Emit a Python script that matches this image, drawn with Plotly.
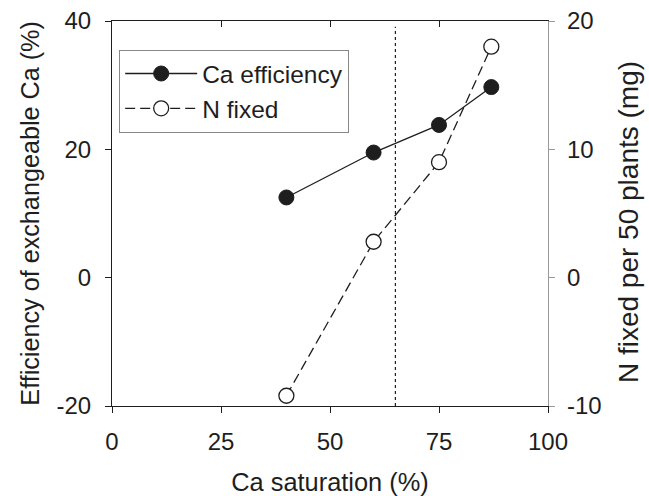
import plotly.graph_objects as go

# Ca saturation levels (%)
ca_saturation = [40, 60, 75, 87]
# Efficiency of exchangeable Ca (%), left axis
ca_efficiency = [12.5, 19.5, 23.8, 29.7]
# N fixed per 50 plants (mg), right axis
n_fixed = [-9.2, 2.8, 9.0, 18.0]
threshold = 65

x_ticks = [0, 25, 50, 75, 100]
x_tick_labels = ["0", "25", "50", "75", "100"]
y1_ticks = [-20, 0, 20, 40]
y1_tick_labels = ["-20", "0", "20", "40"]
y2_ticks = [-10, 0, 10, 20]
y2_tick_labels = ["-10", "0", "10", "20"]

FONT = "Liberation Sans, Arial, sans-serif"
INK = "#1e1e1e"

fig = go.Figure()

fig.add_trace(go.Scatter(
    x=ca_saturation, y=ca_efficiency, name="Ca efficiency",
    mode="lines+markers",
    line=dict(color=INK, width=1.3),
    marker=dict(symbol="circle", size=15, color=INK,
                line=dict(color=INK, width=1)),
    yaxis="y",
))
fig.add_trace(go.Scatter(
    x=ca_saturation, y=n_fixed, name="N fixed",
    mode="lines+markers",
    line=dict(color=INK, width=1.3, dash="10px,5px"),
    marker=dict(symbol="circle", size=15, color="white",
                line=dict(color=INK, width=1.3)),
    yaxis="y2",
))

# vertical dotted reference line
fig.add_shape(type="line", xref="x", yref="paper",
              x0=threshold, x1=threshold, y0=0, y1=0.985,
              line=dict(color=INK, width=1.2, dash="dot"))

# axis titles for the two y axes, placed as rotated annotations
fig.add_annotation(text="Efficiency of exchangeable Ca (%)", textangle=-90,
                   xref="paper", yref="paper", x=-0.19, y=0.5,
                   xanchor="center", yanchor="middle", showarrow=False,
                   font=dict(size=25.2))
fig.add_annotation(text="N fixed per 50 plants (mg)", textangle=-90,
                   xref="paper", yref="paper", x=1.186, y=0.478,
                   xanchor="center", yanchor="middle", showarrow=False,
                   font=dict(size=28))

fig.update_layout(
    width=649, height=496,
    margin=dict(l=112, r=101, t=21, b=90, autoexpand=False),
    paper_bgcolor="white", plot_bgcolor="white",
    font=dict(family=FONT, size=24, color=INK),
    showlegend=True,
    legend=dict(x=0.016, y=0.925, xanchor="left", yanchor="top",
                bordercolor="#888", borderwidth=1.2,
                font=dict(size=24.5), itemwidth=72,
                tracegroupgap=2),
    xaxis=dict(
        range=[0, 100], tickvals=x_ticks, ticktext=x_tick_labels,
        title=dict(text="Ca saturation (%)", standoff=22, font=dict(size=25.4)),
        showline=True, linecolor=INK, linewidth=1.2,
        ticks="outside", ticklen=6, tickcolor=INK, ticklabelstandoff=8,
        showgrid=False, zeroline=False, automargin=False,
    ),
    xaxis2=dict(
        range=[0, 100], tickvals=x_ticks, overlaying="x", side="top",
        showline=True, linecolor=INK, linewidth=1.2,
        ticks="inside", ticklen=6, tickcolor=INK,
        showticklabels=False, showgrid=False, zeroline=False, automargin=False,
    ),
    yaxis=dict(
        range=[-20, 40], tickvals=y1_ticks, ticktext=y1_tick_labels,
        showline=True, linecolor=INK, linewidth=1.2,
        ticks="outside", ticklen=6, tickcolor=INK, ticklabelstandoff=9,
        showgrid=False, zeroline=False, automargin=False,
    ),
    yaxis2=dict(
        range=[-10, 20], tickvals=y2_ticks, ticktext=y2_tick_labels,
        overlaying="y", side="right",
        showline=True, linecolor="#999", linewidth=1.2,
        ticks="outside", ticklen=6, tickcolor="#999", ticklabelstandoff=7,
        showgrid=False, zeroline=False, automargin=False,
    ),
)

# empty trace so the top axis is drawn
fig.add_trace(go.Scatter(x=[None], y=[None], xaxis="x2", showlegend=False,
                         hoverinfo="skip"))

fig.write_html("out.html")
